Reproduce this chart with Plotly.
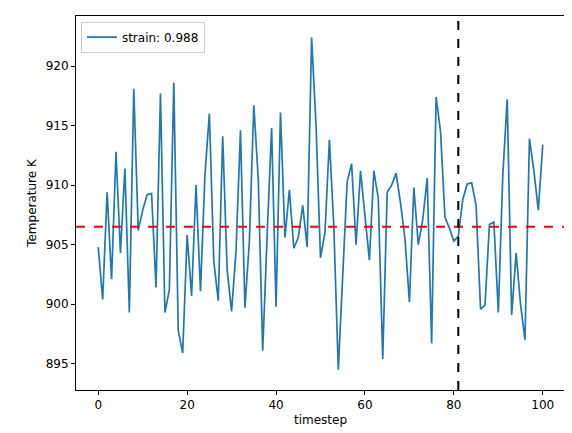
import plotly.graph_objects as go

timestep = list(range(101))
temperature = [
    904.8, 900.4, 909.4, 902.1, 912.8, 904.3, 911.4, 899.3, 918.1, 906.2,
    907.9, 909.2, 909.3, 901.4, 917.7, 899.3, 901.2, 918.6, 897.8, 895.9,
    905.8, 900.7, 910.0, 901.1, 910.8, 916.0, 903.6, 900.3, 914.1, 902.9,
    899.4, 904.5, 914.6, 899.7, 905.3, 916.7, 910.5, 896.1, 905.8, 914.8,
    899.8, 916.1, 905.6, 909.6, 904.7, 905.6, 908.3, 904.8, 922.4, 915.0,
    903.9, 906.0, 913.8, 906.5, 894.5, 902.9, 910.3, 911.8, 905.0, 911.2,
    907.6, 903.7, 911.2, 908.9, 895.4, 909.4, 910.0, 911.0, 908.5, 905.5,
    900.2, 909.8, 905.0, 907.1, 910.6, 896.7, 917.4, 914.5, 907.3, 906.4,
    905.3, 905.7, 908.8, 910.1, 910.2, 908.3, 899.6, 899.9, 906.7, 906.9,
    899.3, 910.8, 917.2, 899.1, 904.3, 900.0, 897.0, 913.9, 911.2, 907.9,
    913.4,
]
mean_temp = 906.5
split_step = 81
strain_label = "strain: 0.988"

fig = go.Figure()
fig.add_trace(go.Scatter(x=timestep, y=temperature, mode="lines", name=strain_label,
                         line=dict(color="#1f77b4", width=1.7)))
fig.add_hline(y=mean_temp, line=dict(color="red", dash="dash", width=2))
fig.add_vline(x=split_step, line=dict(color="black", dash="dash", width=2))

axis = dict(showgrid=False, zeroline=False, showline=True, linecolor="black", linewidth=1,
            mirror=True, ticks="outside", ticklen=4, tickcolor="black", automargin=False,
            tickfont=dict(size=12, color="black"))
fig.update_xaxes(axis, range=[-5, 105], dtick=20,
                 title=dict(text="timestep", font=dict(size=12), standoff=4))
fig.update_yaxes(axis, range=[892.8, 924.2], dtick=5,
                 title=dict(text="Temperature K", font=dict(size=12), standoff=6))

fig.update_layout(
    width=572, height=433, margin=dict(l=68, r=15, t=8, b=51),
    paper_bgcolor="white", plot_bgcolor="white",
    font=dict(family="DejaVu Sans", color="black"),
    showlegend=True,
    legend=dict(x=0.01, y=0.985, xanchor="left", yanchor="top", bgcolor="rgba(255,255,255,0.8)",
                bordercolor="#cccccc", borderwidth=1, font=dict(size=12),
                tracegroupgap=0, itemwidth=30),
)

fig.write_html("out.html")
